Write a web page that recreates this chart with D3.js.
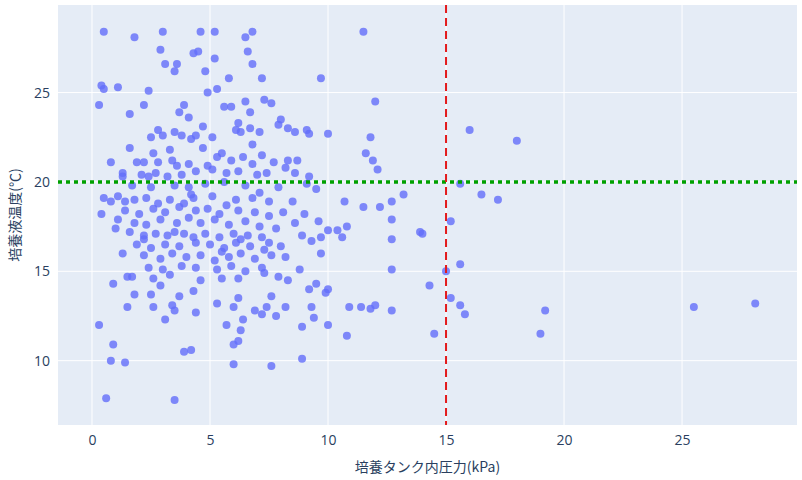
<!DOCTYPE html>
<html><head><meta charset="utf-8">
<script src="https://cdn.jsdelivr.net/npm/d3@7"></script>
<style>body{margin:0;background:#fff;font-family:"Open Sans",sans-serif}</style>
</head><body><svg id="c" width="802" height="480"></svg>
<script>
// pressure (kPa), temperature (°C) pairs
const points = [
[0.5,28.4],[1.8,28.1],[3,28.4],[4.6,28.4],[5.2,28.4],[6.8,28.4],[11.5,28.4],[6.5,28.1],[2.9,27.4],[4.5,27.3],[4.3,27.2],[6.6,27.3],
[3.1,26.6],[3.6,26.6],[5.2,26.9],[6.8,26.6],[3.5,26.2],[4.8,26.2],[0.4,25.4],[0.5,25.2],[1.1,25.3],[7.2,25.8],[9.7,25.8],[5.8,25.8],
[2.4,25.1],[4.9,25],[5.3,25.2],[0.3,24.3],[2.2,24.3],[3.9,24.3],[5.6,24.2],[5.9,24.2],[7.3,24.6],[7.6,24.4],[6.5,24.5],[12,24.5],
[1.6,23.8],[3.7,23.9],[6.7,23.9],[8,23.5],[7.9,23.2],[6.2,23.3],[4.7,23.1],[2.8,22.9],[3.5,22.8],[4.2,22.4],[4.4,22.6],[5.1,22.5],
[6.1,22.9],[6.3,22.8],[6.7,23],[7.1,22.8],[8.3,23],[8.6,22.8],[9.1,22.9],[9.2,22.7],[10,22.7],[11.8,22.5],[16,22.9],[18,22.3],
[2.5,22.5],[3,22.6],[3.8,22.6],[1.6,21.9],[2.6,21.6],[3.3,21.8],[4.7,21.9],[5.5,21.6],[6.4,21.4],[7.2,21.5],[8.3,21.2],[8.7,21.2],
[11.6,21.6],[11.9,21.2],[0.8,21.1],[1.9,21.1],[2.2,21.1],[2.8,21.1],[3.4,21.2],[4.1,21],[4.9,20.9],[5.9,21.2],[6.8,21],[7.7,21.1],
[8.2,20.8],[12.1,20.7],[1.3,20.5],[1.3,20.3],[2.1,20.4],[2.4,20.3],[3.2,20.3],[3.8,20.4],[4.4,20.6],[5.1,20.7],[5.7,20.5],[6.2,20.6],
[7,20.4],[7.4,20.5],[8.6,20.5],[9.2,20.3],[1.7,19.8],[2.5,19.7],[3.5,19.8],[4.1,19.7],[4.8,19.9],[5.6,20],[6.5,19.8],[7.9,19.7],
[9.1,19.9],[9.5,19.6],[15.6,19.9],[16.5,19.3],[17.2,19],[0.5,19.1],[0.8,18.9],[1.1,19.2],[1.8,19],[2.3,19.1],[2.8,18.8],[3.3,19],
[3.9,18.8],[4.3,19.1],[5.1,19.2],[5.7,18.7],[6.1,19],[6.8,19.1],[7.5,18.9],[8.5,18.9],[10.7,18.9],[12.2,18.6],[12.7,18.9],[13.2,19.3],
[0.4,18.2],[1.4,18.4],[2,18.2],[2.6,18.5],[3.1,18.3],[3.7,18.6],[4.4,18.4],[4.9,18.5],[5.4,18.2],[6.2,18.4],[6.9,18.3],[7.5,18.1],
[8.1,18.3],[9,18.2],[9.6,17.8],[11.5,18.6],[15.2,17.8],[1.1,17.9],[1.8,17.7],[2.3,17.6],[2.9,17.9],[3.6,17.7],[4.1,18],[4.6,17.7],
[5.2,17.9],[5.8,17.6],[6.5,17.8],[7.1,17.5],[7.8,17.4],[8.6,17.7],[10,17.3],[10.4,17.3],[10.8,17.5],[12.7,17.9],[13.9,17.2],[14,17.1],
[1,17.4],[1.6,17.2],[2.2,17],[2.7,17.1],[3.2,17],[3.5,17.2],[3.9,17.1],[4.3,16.9],[4.8,17.1],[5.4,16.9],[6,17.1],[6.3,16.8],[6.6,17],
[7.2,16.9],[7.5,16.6],[8.9,17],[9.3,16.7],[9.7,16.9],[10.6,16.9],[12.7,16.8],[1.9,16.5],[2.5,16.3],[3.1,16.5],[3.7,16.4],[4.4,16.6],
[5,16.5],[5.6,16.3],[6.1,16.6],[6.7,16.4],[7.3,16.2],[8,16.4],[9.7,16],[1.3,16],[2.2,15.9],[2.9,15.7],[3.4,16],[4,15.8],[4.6,15.9],
[5.2,15.6],[5.8,15.8],[6.3,16],[6.9,15.7],[7.6,15.9],[8.2,15.8],[15.6,15.4],[2.4,15.2],[3,15.1],[3.8,15.3],[4.4,15.2],[5.3,15.1],
[5.9,15.3],[6.5,15],[7.2,15.2],[12.7,15.1],[15,15],[1.5,14.7],[1.7,14.7],[2.6,14.6],[3.3,14.8],[4.6,14.5],[5.5,14.6],[6.2,14.6],
[7.9,14.7],[8.3,14.5],[9.5,14.3],[10,14],[14.3,14.2],[0.9,14.3],[1.8,13.7],[2.5,13.7],[3.7,13.6],[4.3,13.9],[6.2,13.5],[7.6,13.6],
[9.2,14],[9.9,13.8],[15.2,13.5],[15.6,13.1],[1.5,13],[2.6,13],[3.4,13.1],[5.3,13.2],[6,13],[6.9,12.8],[7.4,13],[8.2,13],[9.3,13],
[10.9,13],[11.4,13],[11.8,12.9],[12,13.1],[12.7,12.8],[15.8,12.6],[19.2,12.8],[25.5,13],[28.1,13.2],[0.3,12],[3.5,12.8],[4.4,12.7],
[5.7,12],[6.4,12.3],[7.2,12.6],[7.8,12.5],[9.4,12.4],[10,12],[8.9,11.9],[6.3,11.7],[10.8,11.4],[14.5,11.5],[19,11.5],[6.2,11.1],
[6,10.9],[0.9,10.9],[3.9,10.5],[8.9,10.1],[0.8,10],[1.4,9.9],[6,9.8],[7.6,9.7],[0.6,7.9],[3.5,7.8],[4.2,10.6],[2.2,16.8],[1.4,18.9],
[3.6,20.9],[5.3,21.4],[6.8,22.1],[4.1,23.6],[2.7,20.5],[4.2,19.3],[7.1,19.4],[5.5,16.1],[2.9,14.2],[7.3,14.9],[8.8,15.1],[3.1,12.3]
];
const xTicks = [0,5,10,15,20,25];
const yTicks = [10,15,20,25];
const xLabel = "培養タンク内圧力(kPa)";
const yLabel = "培養液温度(℃)";
const refX = 15, refY = 20;

const svg = d3.select("#c");
const m = {l:58, r:5, t:5, b:55};
const W = 802, H = 480;
const x = d3.scaleLinear().domain([-1.44, 29.87]).range([m.l, W - m.r]);
const y = d3.scaleLinear().domain([6.4, 29.9]).range([H - m.b, m.t]);

svg.append("rect").attr("x", m.l).attr("y", m.t).attr("width", W - m.l - m.r).attr("height", H - m.t - m.b).attr("fill", "#e5ecf6");

const gx = svg.append("g").attr("transform", `translate(0,${H - m.b})`)
  .call(d3.axisBottom(x).tickValues(xTicks).tickSize(0).tickPadding(10));
const gy = svg.append("g").attr("transform", `translate(${m.l},0)`)
  .call(d3.axisLeft(y).tickValues(yTicks).tickSize(0).tickPadding(8));
[gx, gy].forEach(g => { g.select(".domain").remove(); g.selectAll("text").attr("fill", "#2a3f5f").attr("font-size", 14).attr("font-family", "Open Sans, sans-serif"); });

svg.append("g").selectAll("line").data(xTicks).join("line")
  .attr("x1", d => x(d)).attr("x2", d => x(d)).attr("y1", m.t).attr("y2", H - m.b).attr("stroke", "#fff");
svg.append("g").selectAll("line").data(yTicks).join("line")
  .attr("y1", d => y(d)).attr("y2", d => y(d)).attr("x1", m.l).attr("x2", W - m.r).attr("stroke", "#fff");

svg.append("g").selectAll("circle").data(points).join("circle")
  .attr("cx", d => x(d[0])).attr("cy", d => y(d[1])).attr("r", 4)
  .attr("fill", "#636efa").attr("opacity", 0.8);

svg.append("line").attr("x1", m.l).attr("x2", W - m.r).attr("y1", y(refY)).attr("y2", y(refY))
  .attr("stroke", "#00a000").attr("stroke-width", 3.5).attr("stroke-dasharray", "4,4");
svg.append("line").attr("x1", x(refX)).attr("x2", x(refX)).attr("y1", m.t).attr("y2", H - m.b)
  .attr("stroke", "#e31a1c").attr("stroke-width", 2).attr("stroke-dasharray", "8,5");

svg.append("text").attr("x", (m.l + W - m.r) / 2).attr("y", 472).attr("text-anchor", "middle")
  .attr("fill", "#2a3f5f").attr("font-size", 14).attr("font-family", "Noto Sans CJK JP").text(xLabel);
svg.append("text").attr("transform", `translate(20,${(m.t + H - m.b) / 2}) rotate(-90)`).attr("text-anchor", "middle")
  .attr("fill", "#2a3f5f").attr("font-size", 14).attr("font-family", "Noto Sans CJK JP").text(yLabel);
</script></body></html>
